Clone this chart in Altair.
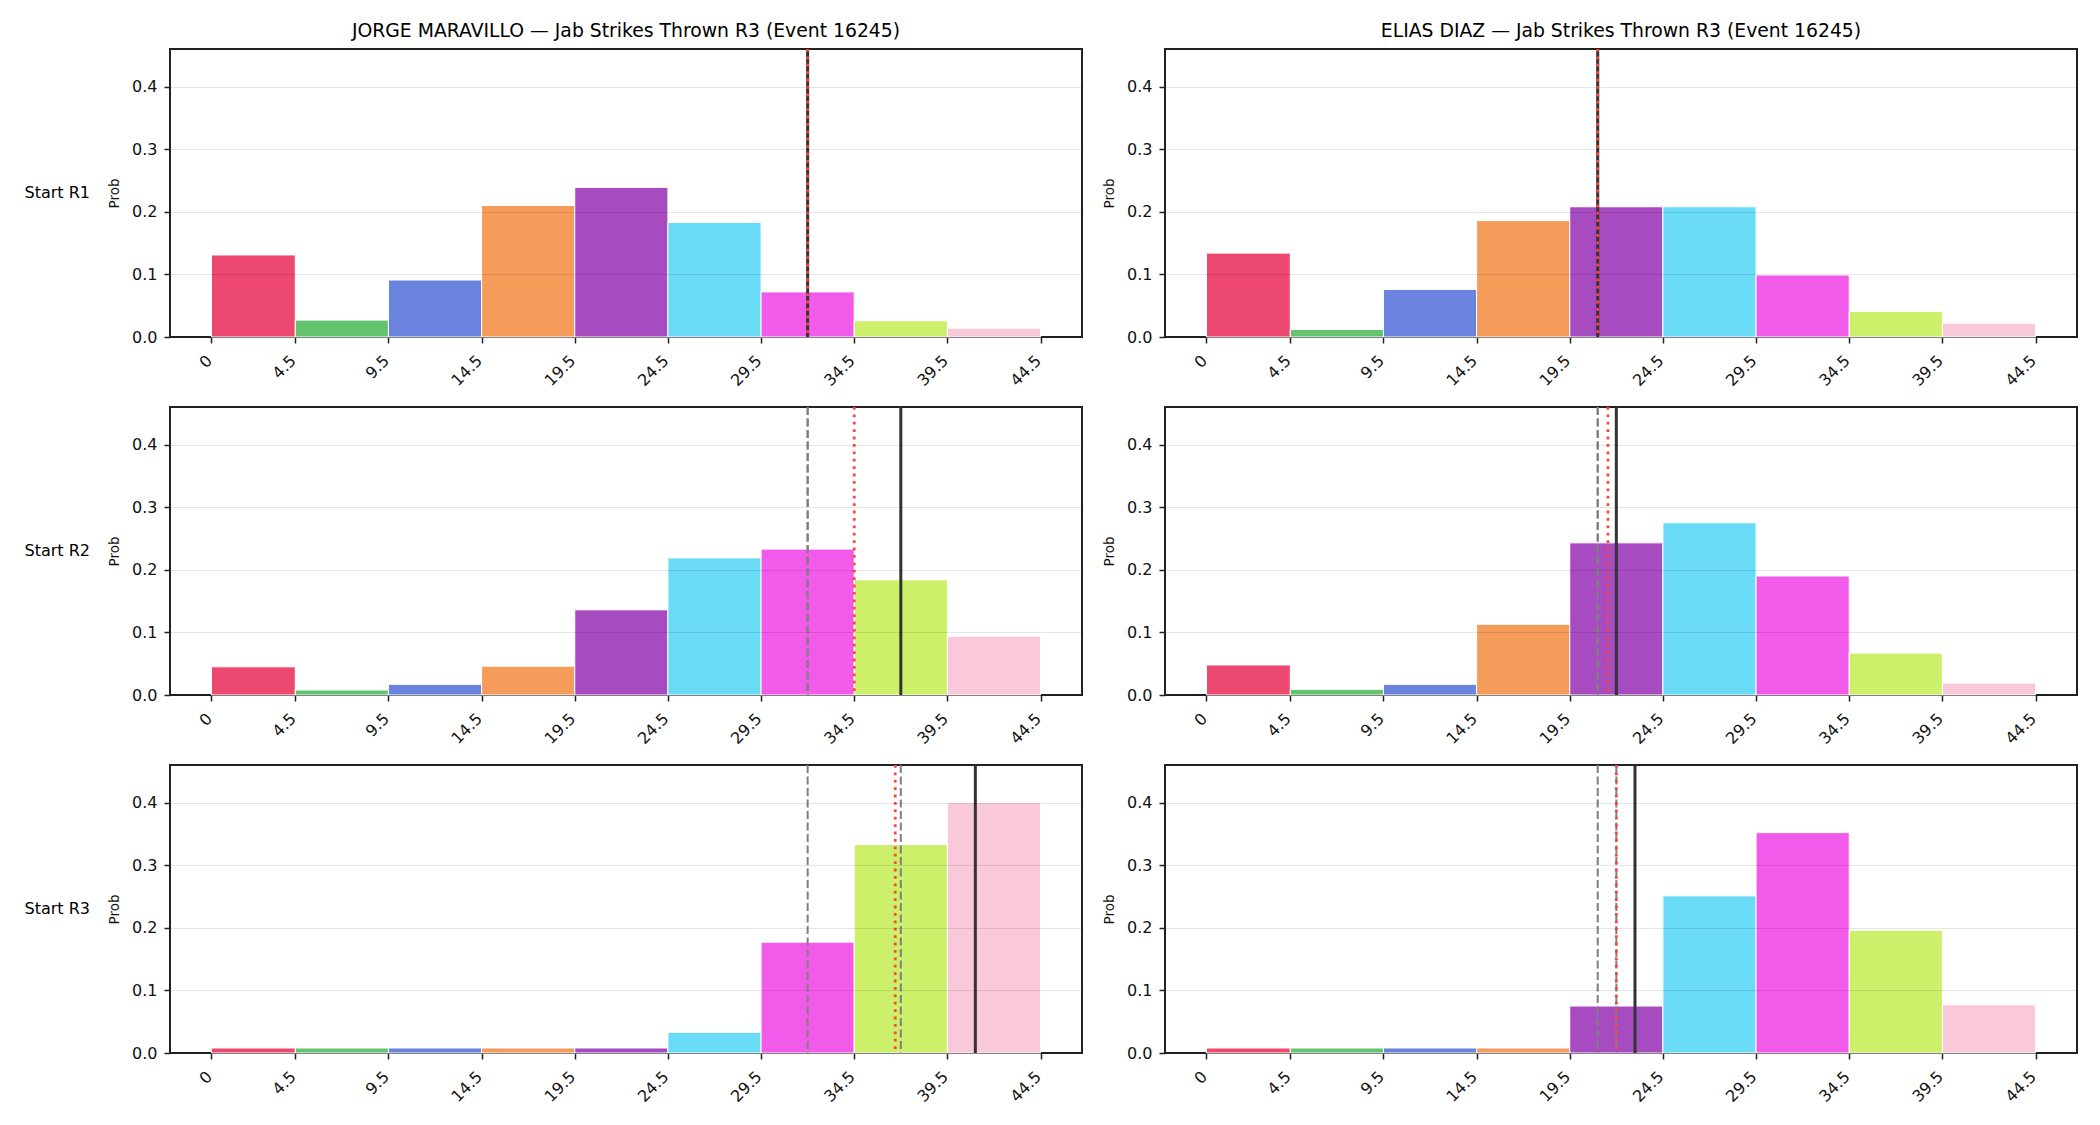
import altair as alt
import pandas as pd

# ---------------- data ----------------
edges = [0, 4.5, 9.5, 14.5, 19.5, 24.5, 29.5, 34.5, 39.5, 44.5]
bin_colors = ["#ED4870", "#64C46E", "#6983DF", "#F69C5B", "#A64BC0",
              "#69DBF6", "#F25AEA", "#CCF06A", "#F9C9DA"]
fighters = ["JORGE MARAVILLO", "ELIAS DIAZ"]
rows = ["Start R1", "Start R2", "Start R3"]
title_suffix = " — Jab Strikes Thrown R3 (Event 16245)"

jorge_r1 = [0.131, 0.027, 0.091, 0.210, 0.239, 0.183, 0.072, 0.026, 0.014]
jorge_r2 = [0.045, 0.008, 0.017, 0.046, 0.136, 0.219, 0.233, 0.184, 0.094]
jorge_r3 = [0.008, 0.008, 0.008, 0.008, 0.008, 0.033, 0.177, 0.333, 0.400]
elias_r1 = [0.134, 0.012, 0.076, 0.186, 0.208, 0.208, 0.099, 0.041, 0.022]
elias_r2 = [0.048, 0.009, 0.017, 0.113, 0.243, 0.275, 0.190, 0.067, 0.019]
elias_r3 = [0.008, 0.008, 0.008, 0.008, 0.075, 0.251, 0.352, 0.196, 0.077]

jorge_solid = [32.0, 37.0, 41.0]
jorge_dotted = [32.0, 34.5, 36.7]
jorge_dashed = [[32.0], [32.0, 32.0], [32.0, 37.0]]
elias_solid = [21.0, 22.0, 23.0]
elias_dotted = [21.0, 21.55, 22.0]
elias_dashed = [[21.0], [21.0, 21.0], [21.0, 22.0]]

probs = {fighters[0]: [jorge_r1, jorge_r2, jorge_r3],
         fighters[1]: [elias_r1, elias_r2, elias_r3]}
solid = {fighters[0]: jorge_solid, fighters[1]: elias_solid}
dotted = {fighters[0]: jorge_dotted, fighters[1]: elias_dotted}
dashed = {fighters[0]: jorge_dashed, fighters[1]: elias_dashed}

recs = []
for f in fighters:
    t = f + title_suffix
    for ri, r in enumerate(rows):
        for bi, p in enumerate(probs[f][ri]):
            recs.append(dict(title=t, row=r, kind="bar", bin=str(bi),
                             x0=edges[bi], x1=edges[bi + 1], p=p, v=None))
        recs.append(dict(title=t, row=r, kind="solid", v=solid[f][ri]))
        recs.append(dict(title=t, row=r, kind="dotted", v=dotted[f][ri]))
        for d in dashed[f][ri]:
            recs.append(dict(title=t, row=r, kind="dashed", v=d))
df = pd.DataFrame(recs)
titles = [f + title_suffix for f in fighters]

FONT = "DejaVu Sans"
xscale = alt.Scale(domain=[-2.225, 46.725], nice=False, zero=False)
yscale = alt.Scale(domain=[0, 0.46], nice=False)

xaxis = alt.Axis(values=edges, labelExpr="datum.value == 0 ? '0' : format(datum.value, '.1f')",
                 labelAngle=-45, labelAlign="right", labelBaseline="top",
                 labelFontSize=16, labelPadding=9, labelOffset=-8, tickSize=6, tickWidth=1.5,
                 tickColor="#222", grid=False, title=None, domain=False)
yaxis = alt.Axis(values=[0, 0.1, 0.2, 0.3, 0.4], format=".1f", title="Prob",
                 titleFontSize=13.5, titleFontWeight="normal", titlePadding=10,
                 labelFontSize=16, labelPadding=7, tickSize=6, tickWidth=1.5,
                 tickColor="#222", grid=True, gridColor="#000000", gridOpacity=0.1,
                 gridWidth=1.2, domain=False, zindex=1)

bars = alt.Chart().transform_filter("datum.kind == 'bar'").mark_bar(
    stroke="white", strokeWidth=1
).encode(
    x=alt.X("x0:Q", scale=xscale, axis=xaxis),
    x2="x1:Q",
    y=alt.Y("p:Q", scale=yscale, axis=yaxis),
    y2=alt.datum(0),
    color=alt.Color("bin:N", scale=alt.Scale(domain=[str(i) for i in range(9)],
                                              range=bin_colors), legend=None),
)

dash_rule = alt.Chart().transform_filter("datum.kind == 'dashed'").mark_rule(
    color="#7f7f7f", strokeWidth=2, strokeDash=[8, 3.5]
).encode(x=alt.X("v:Q", scale=xscale))

solid_rule = alt.Chart().transform_filter("datum.kind == 'solid'").mark_rule(
    color="#333333", strokeWidth=3
).encode(x=alt.X("v:Q", scale=xscale))

dot_rule = alt.Chart().transform_filter("datum.kind == 'dotted'").mark_rule(
    color="#ff4444", strokeWidth=2.8, strokeDash=[2.8, 4.6]
).encode(x=alt.X("v:Q", scale=xscale))

layer = alt.layer(bars, dash_rule, solid_rule, dot_rule).properties(width=912, height=288)

chart = layer.facet(
    data=df,
    row=alt.Row("row:N", sort=rows, title=None,
                header=alt.Header(labelOrient="left", labelAngle=0, labelAlign="left",
                                  labelFontSize=16, labelFont=FONT, labelPadding=80)),
    column=alt.Column("title:N", sort=titles, title=None,
                      header=alt.Header(labelOrient="top", labelFontSize=18.8,
                                        labelFont=FONT, labelPadding=8)),
    spacing={"row": 70, "column": 83},
).resolve_axis(x="independent", y="independent").properties(
    bounds="flush", background="white",
    padding={"left": 24, "top": 22, "right": 10, "bottom": 10},
).configure(font=FONT).configure_view(
    stroke="#222", strokeWidth=2
).configure_axis(labelFont=FONT, titleFont=FONT, labelColor="#111", titleColor="#111")

chart.save("out.html", embed_options={"renderer": "svg", "actions": False})
